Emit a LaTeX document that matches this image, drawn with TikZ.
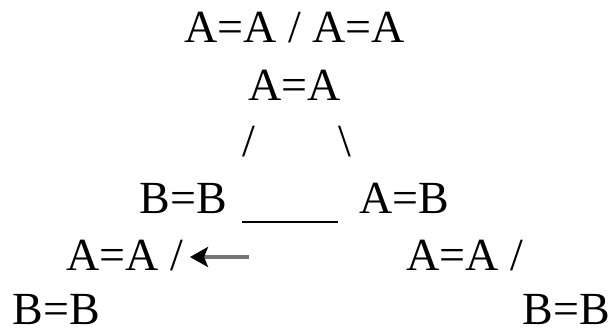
\documentclass[tikz,border=0pt]{standalone}
\usepackage{fontspec}
\setmainfont{Liberation Serif}
\usetikzlibrary{arrows.meta}
\tikzset{
  lbl/.style={anchor=base west, inner sep=0pt, outer sep=0pt, text depth=0pt, font=\fontsize{46}{55}\selectfont},
  baseline/.style={line width=2.3pt, black},
  pointer/.style={line width=4pt, black!55, -{Stealth[length=18pt,width=20pt,inset=4pt,black]}}
}
\begin{document}
\begin{tikzpicture}[x=1pt,y=-1pt]
\useasboundingbox (0,0) rectangle (612,333);
\node[lbl] (top) at (184.5,42) {A=A / A=A};
\node[lbl] (apex) at (248.5,100) {A=A};
\node[lbl] (ls) at (242.5,156) {/};
\node[lbl] (rs) at (338.5,156) {\textbackslash};
\node[lbl] (bl) at (139.5,213) {B=B};
\node[lbl] (br) at (359.5,213) {A=B};
\coordinate (basel) at (242,222);
\coordinate (baser) at (338,222);
\draw[baseline] (basel) -- (baser);
\node[lbl] (l5) at (66.5,270) {A=A /};
\node[lbl] (r5) at (406.5,270) {A=A /};
\coordinate (arrtail) at (249,257);
\coordinate (arrtip) at (190,257);
\draw[pointer] (arrtail) -- (arrtip);
\node[lbl] (l6) at (12.5,324) {B=B};
\node[lbl] (r6) at (522.5,324) {B=B};
\end{tikzpicture}
\end{document}
